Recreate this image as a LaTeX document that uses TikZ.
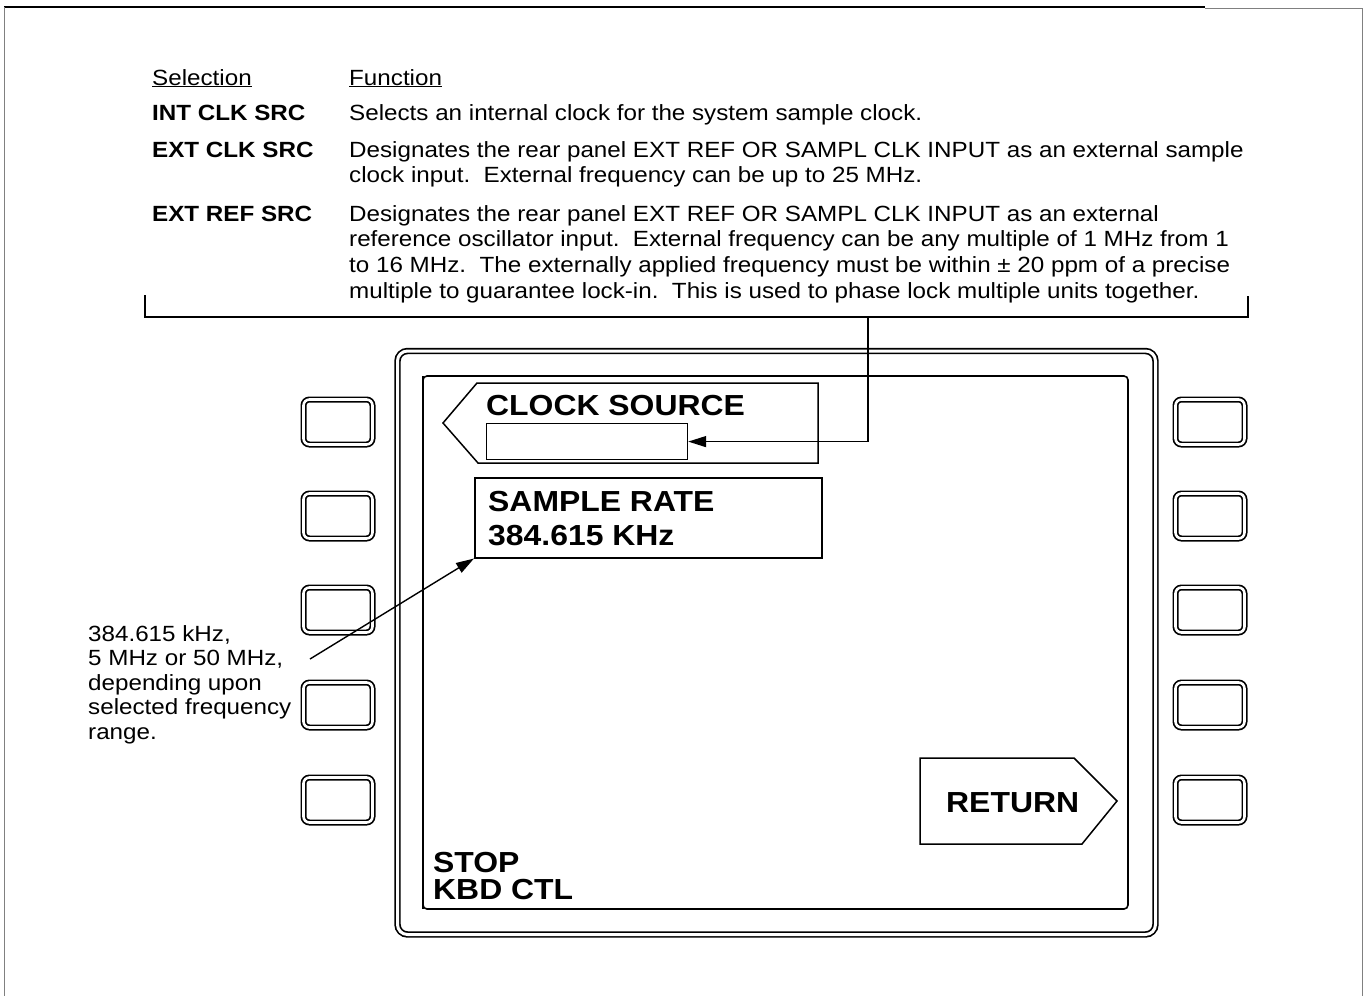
\documentclass[tikz,border=0pt]{standalone}
\usepackage{fontspec}
\setmainfont{Liberation Sans}[FakeStretch=1.1]
\usepackage{tikz}
\usetikzlibrary{arrows.meta, positioning, calc}
\newcommand{\bodyfont}{\fontsize{22}{25.7}\selectfont}
\newcommand{\notefont}{\fontsize{22}{24.6}\selectfont}
\newcommand{\panelfont}{\fontsize{29}{33}\selectfont\bfseries}

\begin{document}
\begin{tikzpicture}[x=1pt, y=-1pt,
    txt/.style={inner sep=0pt, anchor=base west, font=\bodyfont},
    sel/.style={txt, font=\bodyfont\bfseries},
    para/.style={inner sep=0pt, anchor=north west, align=left, font=\bodyfont},
    softkey/.style={draw, double, double distance=2.6pt, line width=1.7pt, rounded corners=6pt, minimum width=69pt, minimum height=45pt, inner sep=0pt},
    panellbl/.style={inner sep=0pt, anchor=base west, font=\panelfont},
    pointer/.style={line width=1.4pt, -{Triangle[length=18pt, width=11pt]}}]
    \useasboundingbox (0,0) rectangle (1369,996);

    \draw[line width=2.2pt] (4,7) -- (1205,7);
    \draw[line width=0.8pt, color=gray] (1205,8) -- (1362,8) -- (1362,996);
    \draw[line width=0.8pt, color=gray] (4,7) -- (4,996);

    \node[txt] (hsel) at (152,85) {\underline{Selection}};
    \node[txt] (hfun) at (349,85) {\underline{Function}};
    \node[sel] (sint) at (152,120) {INT CLK SRC};
    \node[txt] (fint) at (349,120) {Selects an internal clock for the system sample clock.};
    \node[sel] (sext) at (152,157) {EXT CLK SRC};
    \node[para] (fext) at (349,141) {Designates the rear panel EXT REF OR SAMPL CLK INPUT as an external sample\\clock input.\ \ External frequency can be up to 25 MHz.};
    \node[sel] (sref) at (152,221) {EXT REF SRC};
    \node[para] (fref) at (349,205) {Designates the rear panel EXT REF OR SAMPL CLK INPUT as an external\\reference oscillator input.\ \ External frequency can be any multiple of 1 MHz from 1\\to 16 MHz.\ \ The externally applied frequency must be within \char"00B1\ 20 ppm of a precise\\multiple to guarantee lock-in.\ \ This is used to phase lock multiple units together.};

    \draw[line width=1.4pt] (145,295) -- (145,317) -- (1248,317) -- (1248,296);
    \coordinate (brk) at (868,317);

    \draw[line width=1.7pt, double, double distance=3pt, rounded corners=10pt] (397.5,351) rectangle (1155.5,934.5);
    \draw[line width=1.6pt, rounded corners=4pt] (423,376) rectangle (1128,909);
    \draw[line width=2.6pt] (423,376) -- (423,909);

    \foreach \i/\yy in {1/422, 2/516, 3/610, 4/705, 5/800} {
        \node[softkey] (lk\i) at (338,\yy) {};
        \node[softkey] (rk\i) at (1210,\yy) {};
    }

    \draw[line width=1.5pt] (443,423) -- (477,383) -- (818,383) -- (818,463) -- (478,463) -- cycle;
    \node[panellbl] (clksrc) at (486,415) {CLOCK SOURCE};
    \node[draw, line width=1.2pt, minimum width=201pt, minimum height=36pt, anchor=north west, inner sep=0pt] (clkval) at (486,423) {};

    \node[draw, line width=1.5pt, minimum width=347pt, minimum height=80pt, anchor=north west, inner sep=0pt] (srate) at (474,477) {};
    \node[panellbl] (srtitle) at (488,511) {SAMPLE RATE};
    \node[panellbl] (srval) at (488,545) {384.615 KHz};

    \draw[line width=1.5pt] (920,758) -- (1074,758) -- (1117,801) -- (1082,844) -- (920,844) -- cycle;
    \node[panellbl] (ret) at (946,812) {RETURN};

    \node[panellbl] (stop) at (433,872) {STOP};
    \node[panellbl] (kbd) at (433,899) {KBD CTL};

    \node[para, font=\notefont] (note) at (88,625) {384.615 kHz,\\5 MHz or 50 MHz,\\depending upon\\selected frequency\\range.};
    \coordinate (ann) at (310,659);

    \draw[pointer] (brk) |- (clkval.east);
    \draw[pointer] (ann) -- (srate.south west);
\end{tikzpicture}
\end{document}
